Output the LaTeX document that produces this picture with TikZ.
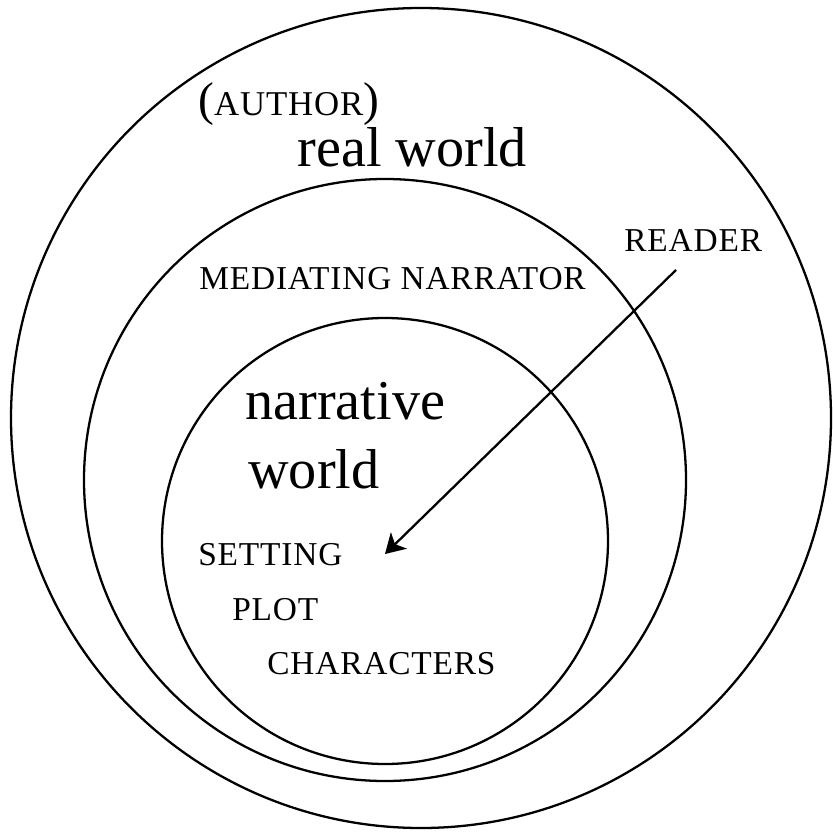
\documentclass[tikz,border=0pt]{standalone}
\usepackage{fontspec}
\setmainfont{Liberation Serif}
\newfontfamily\capfont[LetterSpace=2.5]{Liberation Serif}
\usepackage{tikz}
\usetikzlibrary{arrows.meta,positioning}
\definecolor{inkC}{RGB}{0,0,0}
\tikzset{
    ring/.style    = {draw=inkC, line width=1.3pt},
    line/.style    = {-{Stealth[length=11pt, width=13pt, inset=3pt]}, draw=inkC, line width=1.3pt},
    bigtxt/.style  = {anchor=base west, inner sep=0pt, font=\fontsize{32}{39}\selectfont},
    captxt/.style  = {anchor=base west, inner sep=0pt, font=\capfont\fontsize{19}{23}\selectfont},
}

\begin{document}
\begin{tikzpicture}[x=0.02cm, y=-0.02cm]
    \useasboundingbox (0,0) rectangle (832,834);
    % centres of the three worlds
    \coordinate (outerC) at (421,418);
    \coordinate (midC)   at (385,480);
    \coordinate (innerC) at (385,541);

    % circles
    \draw[ring] (outerC) circle (410);
    \draw[ring] (midC) circle (301);
    \draw[ring] (innerC) circle (223);

    % real world
    \node[captxt] (author) at (198,116)
        {\fontsize{27}{30}\selectfont(\fontsize{19.8}{23}\selectfont AUTHOR\fontsize{27}{30}\selectfont)};
    \node[bigtxt] (realWorld) at (297,167) {real world};

    % mediating narrator and reader
    \node[captxt] (narrator) at (199,290) {MEDIATING NARRATOR};
    \node[captxt] (reader) at (624,252) {READER};

    % narrative world
    \node[bigtxt] (narrative) at (245,419) {narrative};
    \node[bigtxt] (nWorld) at (248,488) {world};
    \node[captxt] (setting) at (198,565) {SETTING};
    \node[captxt] (plot) at (232,620) {PLOT};
    \node[captxt] (characters) at (267,674) {CHARACTERS};

    % reader looks into the story
    \coordinate (readStart) at (676,270);
    \coordinate (readTip) at (385,554);
    \draw[line] (readStart) -- (readTip);
\end{tikzpicture}
\end{document}
